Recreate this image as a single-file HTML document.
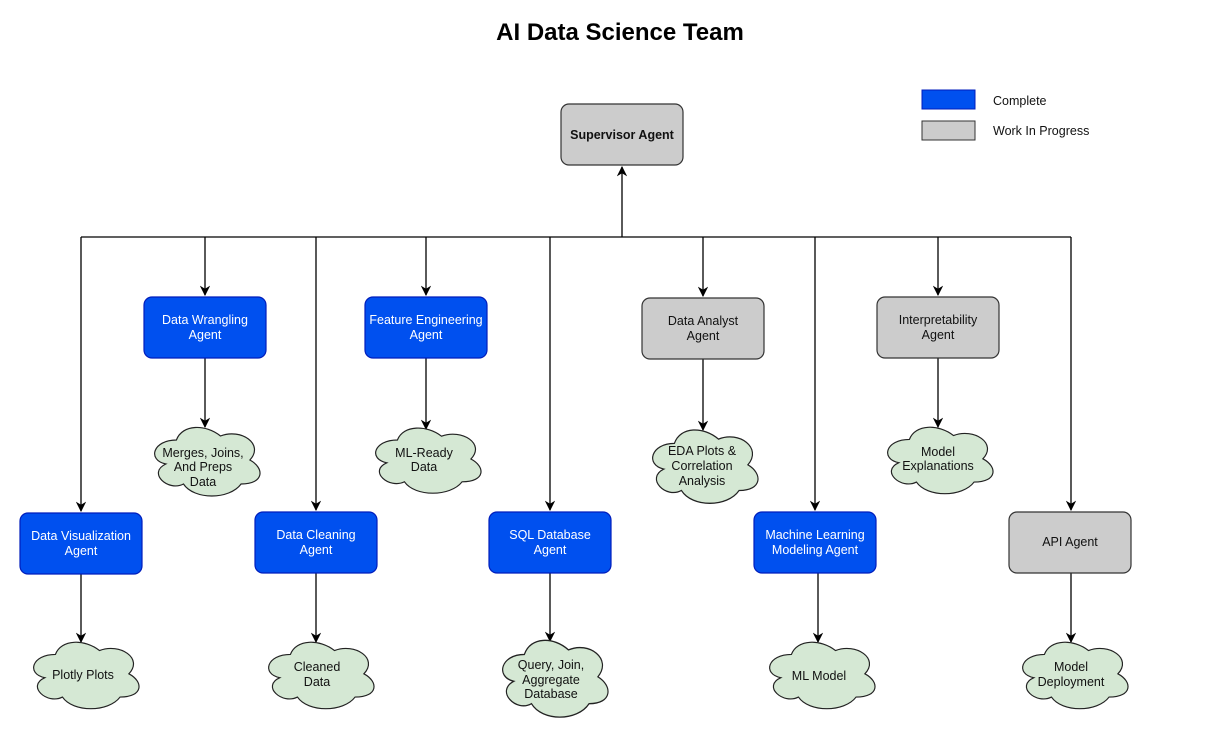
<!DOCTYPE html>
<html><head><meta charset="utf-8"><style>
body{margin:0;background:#fff;}
svg{display:block;font-family:"Liberation Sans",Arial,sans-serif;}
.b{fill:#0050EF;stroke:#001DBC;stroke-width:1.2;}
.g{fill:#CCCCCC;stroke:#333;stroke-width:1.2;}
.c{fill:#D5E8D4;stroke:#222;stroke-width:1.2;}
.l{stroke:#000;stroke-width:1.3;fill:none;}
.wt{fill:#fff;font-size:12.5px;text-anchor:middle;}
.kt{fill:#111;font-size:12.5px;text-anchor:middle;}
</style></head><body>
<svg width="1208" height="741" viewBox="0 0 1208 741">
<defs>
<marker id="a" viewBox="0 0 10 10" refX="9" refY="5" markerWidth="8" markerHeight="8" orient="auto-start-reverse"><path d="M0,0 L10,5 L0,10 L3,5 Z" fill="#000"/></marker>
<path id="cl" d="M30,20 C6,20 0,40 19.2,44 C0,52.8 21.6,72 37.2,64 C48,80 84,80 96,64 C120,64 120,48 105,40 C120,24 96,8 75,16 C60,4 36,4 30,20 Z"/>
</defs>
<text x="620" y="40" text-anchor="middle" font-size="24" font-weight="bold" fill="#000">AI Data Science Team</text>

<rect x="922" y="90" width="53" height="19" fill="#0050EF" stroke="#001DBC"/>
<rect x="922" y="121" width="53" height="19" fill="#CCCCCC" stroke="#333"/>
<text x="993" y="105" font-size="12.5" fill="#111">Complete</text>
<text x="993" y="135" font-size="12.5" fill="#111">Work In Progress</text>

<!-- connectors -->
<path class="l" d="M622,237 L622,167" marker-end="url(#a)"/>
<path class="l" d="M81,237 L1071,237"/>
<g class="l">
<path d="M81,237 V511" marker-end="url(#a)"/>
<path d="M205,237 V295" marker-end="url(#a)"/>
<path d="M316,237 V510" marker-end="url(#a)"/>
<path d="M426,237 V295" marker-end="url(#a)"/>
<path d="M550,237 V510" marker-end="url(#a)"/>
<path d="M703,237 V296" marker-end="url(#a)"/>
<path d="M815,237 V510" marker-end="url(#a)"/>
<path d="M938,237 V295" marker-end="url(#a)"/>
<path d="M1071,237 V510" marker-end="url(#a)"/>
<path d="M205,358 V427" marker-end="url(#a)"/>
<path d="M426,358 V429" marker-end="url(#a)"/>
<path d="M703,359 V430" marker-end="url(#a)"/>
<path d="M938,358 V427" marker-end="url(#a)"/>
<path d="M81,574 V642" marker-end="url(#a)"/>
<path d="M316,573 V642" marker-end="url(#a)"/>
<path d="M550,573 V641" marker-end="url(#a)"/>
<path d="M818,573 V642" marker-end="url(#a)"/>
<path d="M1071,573 V642" marker-end="url(#a)"/>
</g>

<!-- boxes -->
<rect class="g" x="561" y="104" width="122" height="61" rx="8"/>
<text x="622" y="139" text-anchor="middle" font-size="12.5" font-weight="bold" fill="#111">Supervisor Agent</text>

<rect class="b" x="144" y="297" width="122" height="61" rx="8"/>
<text class="wt" x="205" y="324">Data Wrangling</text><text class="wt" x="205" y="339">Agent</text>
<rect class="b" x="365" y="297" width="122" height="61" rx="8"/>
<text class="wt" x="426" y="324">Feature Engineering</text><text class="wt" x="426" y="339">Agent</text>
<rect class="g" x="642" y="298" width="122" height="61" rx="8"/>
<text class="kt" x="703" y="325">Data Analyst</text><text class="kt" x="703" y="340">Agent</text>
<rect class="g" x="877" y="297" width="122" height="61" rx="8"/>
<text class="kt" x="938" y="324">Interpretability</text><text class="kt" x="938" y="339">Agent</text>

<rect class="b" x="20" y="513" width="122" height="61" rx="8"/>
<text class="wt" x="81" y="540">Data Visualization</text><text class="wt" x="81" y="555">Agent</text>
<rect class="b" x="255" y="512" width="122" height="61" rx="8"/>
<text class="wt" x="316" y="539">Data Cleaning</text><text class="wt" x="316" y="554">Agent</text>
<rect class="b" x="489" y="512" width="122" height="61" rx="8"/>
<text class="wt" x="550" y="539">SQL Database</text><text class="wt" x="550" y="554">Agent</text>
<rect class="b" x="754" y="512" width="122" height="61" rx="8"/>
<text class="wt" x="815" y="539">Machine Learning</text><text class="wt" x="815" y="554">Modeling Agent</text>
<rect class="g" x="1009" y="512" width="122" height="61" rx="8"/>
<text class="kt" x="1070" y="546">API Agent</text>

<!-- clouds -->
<g class="c">
<use href="#cl" transform="translate(147,420) scale(0.98,1.0)"/>
<use href="#cl" transform="translate(368,421) scale(0.98,0.95)"/>
<use href="#cl" transform="translate(645,422) scale(0.98,1.07)"/>
<use href="#cl" transform="translate(880,420) scale(0.98,0.97)"/>
<use href="#cl" transform="translate(26,635) scale(0.98,0.97)"/>
<use href="#cl" transform="translate(261,635) scale(0.98,0.97)"/>
<use href="#cl" transform="translate(495,632) scale(0.98,1.12)"/>
<use href="#cl" transform="translate(762,635) scale(0.98,0.97)"/>
<use href="#cl" transform="translate(1015,635) scale(0.98,0.97)"/>
</g>
<text class="kt" x="203" y="457">Merges, Joins,</text><text class="kt" x="203" y="471">And Preps</text><text class="kt" x="203" y="486">Data</text>
<text class="kt" x="424" y="457">ML-Ready</text><text class="kt" x="424" y="471">Data</text>
<text class="kt" x="702" y="455">EDA Plots &amp;</text><text class="kt" x="702" y="470">Correlation</text><text class="kt" x="702" y="485">Analysis</text>
<text class="kt" x="938" y="456">Model</text><text class="kt" x="938" y="470">Explanations</text>
<text class="kt" x="83" y="679">Plotly Plots</text>
<text class="kt" x="317" y="671">Cleaned</text><text class="kt" x="317" y="686">Data</text>
<text class="kt" x="551" y="669">Query, Join,</text><text class="kt" x="551" y="684">Aggregate</text><text class="kt" x="551" y="698">Database</text>
<text class="kt" x="819" y="680">ML Model</text>
<text class="kt" x="1071" y="671">Model</text><text class="kt" x="1071" y="686">Deployment</text>
</svg>
</body></html>
